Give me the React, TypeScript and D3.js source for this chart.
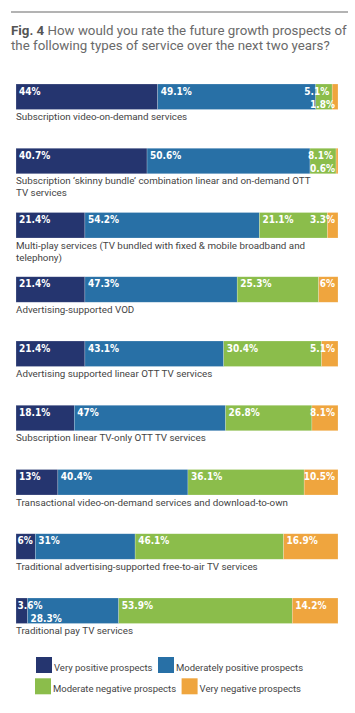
import React, { useEffect, useRef } from "react";
import * as d3 from "d3";

const titleBold = "Fig. 4";
const titleLine1 = " How would you rate the future growth prospects of";
const titleLine2 = "the following types of service over the next two years?";

const categories = [
  "Subscription video-on-demand services",
  "Subscription ‘skinny bundle’ combination linear and on-demand OTT\nTV services",
  "Multi-play services (TV bundled with fixed & mobile broadband and\ntelephony)",
  "Advertising-supported VOD",
  "Advertising supported linear OTT TV services",
  "Subscription linear TV-only OTT TV services",
  "Transactional video-on-demand services and download-to-own",
  "Traditional advertising-supported free-to-air TV services",
  "Traditional pay TV services",
];

const seriesNames = [
  "Very positive prospects",
  "Moderately positive prospects",
  "Moderate negative prospects",
  "Very negative prospects",
];

const veryPositive = [44, 40.7, 21.4, 21.4, 21.4, 18.1, 13, 6, 3.6];
const moderatelyPositive = [49.1, 50.6, 54.2, 47.3, 43.1, 47, 40.4, 31, 28.3];
const moderateNegative = [5.1, 8.1, 21.1, 25.3, 30.4, 26.8, 36.1, 46.1, 53.9];
const veryNegative = [1.8, 0.6, 3.3, 6, 5.1, 8.1, 10.5, 16.9, 14.2];

const colors = ["#25356F", "#2870A6", "#8BBD4B", "#EFA53E"];

const TEXT_FONT = "Roboto, 'DejaVu Sans Condensed', sans-serif";
const VALUE_FONT = "'DejaVu Sans Condensed', 'DejaVu Sans', sans-serif";

export default function App() {
  const ref = useRef<SVGSVGElement | null>(null);

  useEffect(() => {
    const svg = d3.select(ref.current);
    svg.selectAll("*").remove();

    const series = [veryPositive, moderatelyPositive, moderateNegative, veryNegative];

    // top rule
    svg.append("line")
      .attr("x1", 11).attr("x2", 348).attr("y1", 12).attr("y2", 12)
      .attr("stroke", "#9a9a9a").attr("stroke-width", 1.4);

    // title
    const t1 = svg.append("text")
      .attr("x", 11).attr("y", 35)
      .attr("font-family", TEXT_FONT).attr("font-size", 13.3).attr("fill", "#6a6a6a");
    t1.append("tspan").attr("font-weight", "bold").attr("fill", "#555").text(titleBold);
    t1.append("tspan").text(titleLine1);
    svg.append("text")
      .attr("x", 11).attr("y", 49.5)
      .attr("font-family", TEXT_FONT).attr("font-size", 13.3).attr("fill", "#6a6a6a")
      .text(titleLine2);

    const x = d3.scaleLinear().domain([0, 100]).range([16, 338]);
    const y = d3.scaleBand<string>()
      .domain(categories)
      .range([84, 623.5])
      .paddingInner(1 - 25.5 / 64.25)
      .paddingOuter(0)
      .align(0);
    const bh = y.bandwidth();

    categories.forEach((cat, i) => {
      const g = svg.append("g");
      const top = y(cat)!;
      let cum = 0;
      const segs = series.map((s, k) => {
        const v = s[i];
        const seg = { k, v, x0: x(cum), x1: x(cum + v) };
        cum += v;
        return seg;
      });
      segs.forEach((s) => {
        g.append("rect")
          .attr("x", s.x0).attr("y", top)
          .attr("width", Math.max(0, s.x1 - s.x0)).attr("height", bh)
          .attr("fill", colors[s.k])
          .attr("stroke", "#ffffff").attr("stroke-opacity", 0.35).attr("stroke-width", 0.6);
      });
      // value labels
      let lastRight = -Infinity;
      segs.forEach((s) => {
        const txt = g.append("text")
          .attr("font-family", VALUE_FONT).attr("font-weight", "bold")
          .attr("font-size", 10).attr("fill", "#fff")
          .text(`${s.v}%`);
        const w = (txt.node() as SVGTextElement).getComputedTextLength();
        let tx: number;
        if (w + 6 <= s.x1 - s.x0) tx = s.x0 + 3;
        else tx = Math.max(x(0) + 1.5, s.x1 - 3 - w);
        let ty = top + 10.5;
        if (tx < lastRight + 1) {
          ty = top + 24;
        } else {
          lastRight = tx + w;
        }
        txt.attr("x", tx).attr("y", ty);
      });
      // category label
      const lines = cat.split("\n");
      lines.forEach((ln, j) => {
        g.append("text")
          .attr("x", 16).attr("y", top + bh + 10.5 + j * 12)
          .attr("font-family", TEXT_FONT).attr("font-size", 9.8).attr("fill", "#444")
          .text(ln);
      });
    });

    // legend: two rows, flowing swatch + text
    const rows = [
      { x0: 36, y0: 657, items: [0, 1] },
      { x0: 35, y0: 678.3, items: [2, 3] },
    ];
    rows.forEach((row) => {
      let cx = row.x0;
      row.items.forEach((k) => {
        svg.append("rect")
          .attr("x", cx).attr("y", row.y0).attr("width", 16).attr("height", 16)
          .attr("fill", colors[k]);
        const t = svg.append("text")
          .attr("x", cx + 18).attr("y", row.y0 + 13.5)
          .attr("font-family", TEXT_FONT).attr("font-size", 9.5).attr("fill", "#444")
          .text(seriesNames[k]);
        const w = (t.node() as SVGTextElement).getComputedTextLength();
        cx = cx + 18 + w + 5.5;
      });
    });
  }, []);

  return (
    <svg
      ref={ref}
      width={355}
      height={713}
      style={{ position: "absolute", left: 0, top: 0, background: "#fff" }}
    />
  );
}
